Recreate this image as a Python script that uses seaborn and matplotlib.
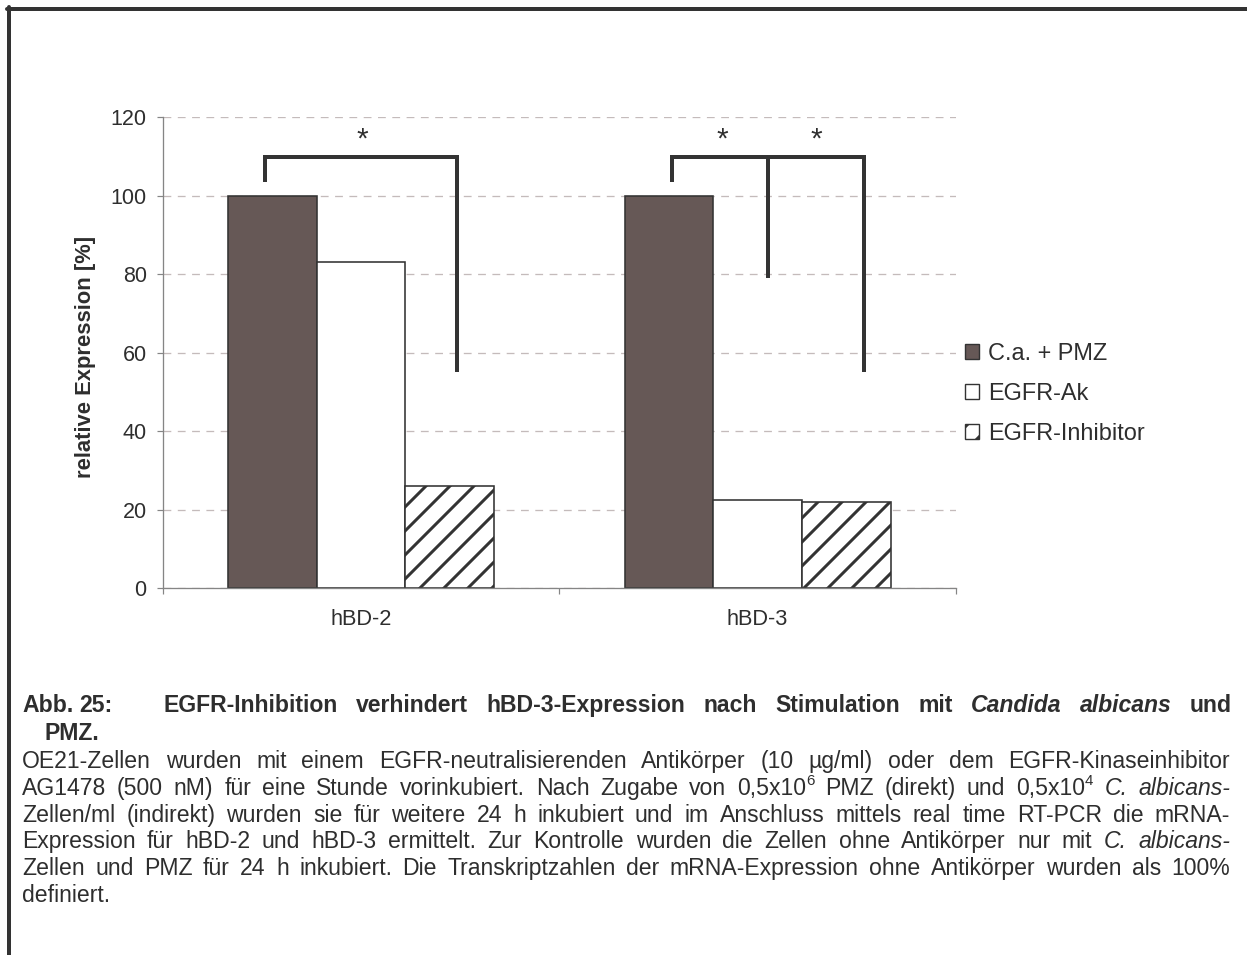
import numpy as np
import pandas as pd
import matplotlib
matplotlib.use("Agg")
import matplotlib.pyplot as plt
import seaborn as sns
from matplotlib.patches import Patch
from matplotlib.lines import Line2D

# chart data
genes = ["hBD-2", "hBD-3"]
treatments = ["C.a. + PMZ", "EGFR-Ak", "EGFR-Inhibitor"]
ca_pmz = [100, 100]
egfr_ak = [83, 22.5]
egfr_inhibitor = [26, 22]

# significance brackets (data coords): (x_left, x_mid or None, x_right, y_top, y_left, y_mid, y_right)
brackets = [
    (-0.243, None, 0.241, 110, 103.5, None, 55),
    (0.785, 1.027, 1.269, 110, 103.5, 79, 55),
]
stars_x = [0.004, 0.911, 1.148]
stars_y = 112.3

df = pd.DataFrame({
    "gene": genes * 3,
    "treatment": np.repeat(treatments, len(genes)),
    "value": ca_pmz + egfr_ak + egfr_inhibitor,
})

sns.set_style("white")
plt.rcParams["font.family"] = ["Liberation Sans", "DejaVu Sans"]
plt.rcParams["hatch.linewidth"] = 3.0
TXT = "#2e2e2e"
EDGE = "#333333"
GRAY = "#858585"

W, H = 1247, 955
fig = plt.figure(figsize=(W / 72, H / 72), dpi=72)
ax = fig.add_axes([162.7 / W, (H - 588) / H, (956 - 162.7) / W, (588 - 117.3) / H])

sns.barplot(data=df, x="gene", y="value", hue="treatment", order=genes,
            hue_order=treatments, palette=["#665856", "white", "white"],
            width=0.67, edgecolor=EDGE, linewidth=1.6, saturation=1,
            legend=False, ax=ax)
for bar in ax.containers[2]:
    bar.set_hatch("/")

ax.set_ylim(0, 120)
ax.set_xlim(-0.5, 1.5)
ax.set_yticks(range(0, 121, 20))
ax.yaxis.grid(True, color="#c4bbbb", linestyle=(0, (6, 5)), linewidth=1.3)
ax.xaxis.grid(False)
ax.set_axisbelow(True)
for s in ["top", "right"]:
    ax.spines[s].set_visible(False)
for s in ["left", "bottom"]:
    ax.spines[s].set_color(GRAY)
    ax.spines[s].set_linewidth(1.3)
ax.set_xlabel("")
ax.set_ylabel("")
ax.tick_params(axis="y", length=6, width=1.2, color=GRAY, pad=10,
               labelsize=21.5, labelcolor=TXT, left=True)
ax.set_xticks([-0.5, 0.5, 1.5], minor=True)
ax.tick_params(axis="x", which="major", length=0, pad=21, labelsize=21.7, labelcolor=TXT)
ax.tick_params(axis="x", which="minor", length=6, width=1.2, color=GRAY, bottom=True)

fig.text(85 / W, 1 - 357 / H, "relative Expression [%]", rotation=90,
         ha="center", va="center", fontsize=22, fontweight="bold", color=TXT)

# significance brackets
for xl, xm, xr, yt, yl, ym, yr in brackets:
    kw = dict(color=EDGE, lw=4, solid_capstyle="butt", solid_joinstyle="miter", clip_on=False)
    ax.plot([xl, xl, xr, xr], [yl, yt, yt, yr], **kw)
    if xm is not None:
        ax.plot([xm, xm], [yt, ym], **kw)
for sx in stars_x:
    ax.text(sx, stars_y, "*", ha="center", va="baseline", fontsize=30, color=TXT)

# legend
handles = [
    Patch(facecolor="#665856", edgecolor=EDGE, linewidth=1.4),
    Patch(facecolor="white", edgecolor=EDGE, linewidth=1.4),
    Patch(facecolor="white", edgecolor=EDGE, linewidth=1.4, hatch="/"),
]
fig.legend(handles, treatments, loc="center left",
           bbox_to_anchor=(965 / W, 1 - 394 / H), frameon=False, fontsize=23.5,
           handlelength=0.6, handleheight=0.6, handletextpad=0.38,
           labelspacing=0.77, borderpad=0, borderaxespad=0, labelcolor=TXT)

# page border
fig.add_artist(Line2D([7 / W, 1], [1 - 9 / H, 1 - 9 / H], color="#333333", lw=4))
fig.add_artist(Line2D([9 / W, 9 / W], [1 - 7 / H, 0], color="#333333", lw=4))

# caption
renderer = fig.canvas.get_renderer()
FS = 23
STY = {
    "n": dict(fontsize=FS),
    "i": dict(fontsize=FS, style="italic"),
    "b": dict(fontsize=FS, weight="bold"),
    "bi": dict(fontsize=FS, weight="bold", style="italic"),
    "sup": dict(fontsize=15),
}


def parse(word, base):
    kind = base
    if word.startswith("_"):
        kind = "bi" if base == "b" else "i"
        word = word[1:]
    if "^" in word:
        a, b = word.split("^")
        return [(a, kind), (b, "sup")]
    return [(word, kind)]


def draw_line(text, x0, x1, yb, base="n", justify=True):
    words = [parse(w, base) for w in text.split(" ")]
    objs, widths = [], []
    for runs in words:
        items, wsum = [], 0
        for txt, kind in runs:
            t = fig.text(0, 0, txt, color=TXT, ha="left", va="baseline", **STY[kind])
            w = t.get_window_extent(renderer).width
            items.append((t, kind, wsum))
            wsum += w
        objs.append(items)
        widths.append(wsum)
    if justify and len(words) > 1:
        gap = (x1 - x0 - sum(widths)) / (len(words) - 1)
    else:
        gap = 0.28 * FS
    x = x0
    for items, w in zip(objs, widths):
        for t, kind, off in items:
            dy = 10 if kind == "sup" else 0
            t.set_position(((x + off) / W, 1 - (yb - dy) / H))
        x += w + gap


draw_line("Abb. 25:", 22, 0, 712, base="b", justify=False)
draw_line("EGFR-Inhibition verhindert hBD-3-Expression nach Stimulation mit _Candida _albicans und",
          163, 1232, 712, base="b")
draw_line("PMZ.", 45, 0, 740, base="b", justify=False)
body = [
    ("OE21-Zellen wurden mit einem EGFR-neutralisierenden Antikörper (10 µg/ml) oder dem EGFR-Kinaseinhibitor", True),
    ("AG1478 (500 nM) für eine Stunde vorinkubiert. Nach Zugabe von 0,5x10^6 PMZ (direkt) und 0,5x10^4 _C. _albicans-", True),
    ("Zellen/ml (indirekt) wurden sie für weitere 24 h inkubiert und im Anschluss mittels real time RT-PCR die mRNA-", True),
    ("Expression für hBD-2 und hBD-3 ermittelt. Zur Kontrolle wurden die Zellen ohne Antikörper nur mit _C. _albicans-", True),
    ("Zellen und PMZ für 24 h inkubiert. Die Transkriptzahlen der mRNA-Expression ohne Antikörper wurden als 100%", True),
    ("definiert.", False),
]
for k, (line, just) in enumerate(body):
    draw_line(line, 22, 1230, 768 + 26.8 * k, justify=just)

fig.savefig("out.png", dpi=72, facecolor="white")
